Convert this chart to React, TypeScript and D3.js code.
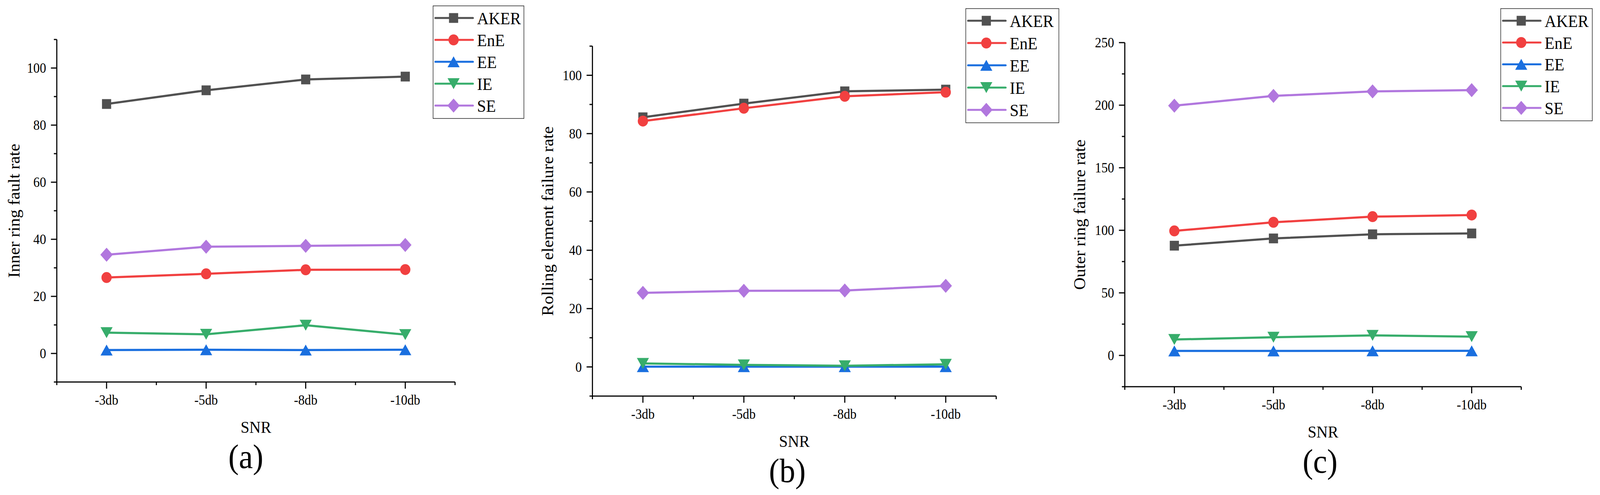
import { useEffect, useRef } from 'react'
import * as d3 from 'd3'

const snrLevels = ['-3db', '-5db', '-8db', '-10db']
const methods = ['AKER', 'EnE', 'EE', 'IE', 'SE']
const methodColors = ['#515151', '#F14040', '#1A6FDF', '#37AD6B', '#B177DE']
const methodMarkers = ['square', 'circle', 'triangleUp', 'triangleDown', 'diamond']

// rows follow the order of `methods`
const innerRingRates = [
  [87.4, 92.2, 96.0, 97.0],
  [26.6, 27.9, 29.3, 29.4],
  [1.2, 1.3, 1.2, 1.3],
  [7.3, 6.7, 9.9, 6.6],
  [34.6, 37.4, 37.7, 38.0],
]
const rollingElementRates = [
  [85.6, 90.3, 94.5, 95.1],
  [84.3, 88.7, 92.8, 94.2],
  [0.1, 0.1, 0.1, 0.1],
  [1.2, 0.7, 0.4, 0.9],
  [25.4, 26.1, 26.2, 27.8],
]
const outerRingRates = [
  [87.7, 93.5, 96.8, 97.5],
  [99.5, 106.4, 110.9, 112.2],
  [3.6, 3.6, 3.7, 3.7],
  [12.7, 14.5, 16.0, 15.0],
  [199.6, 207.4, 211.0, 212.0],
]
const rateTicks = [0, 20, 40, 60, 80, 100]
const outerTicks = [0, 50, 100, 150, 200, 250]

// drawing space; the svg is stretched to whatever viewport the page gets
const W = 4367
const H = 1266
const FONT = '"Liberation Serif", "Times New Roman", serif'

const panels = [
  {
    tag: '(a)', yTitle: 'Inner ring fault rate', rates: innerRingRates, ticks: rateTicks, domain: [-10, 110],
    box: { left: 155, right: 1242, top: 101, bottom: 977 },
    legend: { x: 1182, y: 15, w: 248, h: 288 }, titleX: 53, tagX: 671,
  },
  {
    tag: '(b)', yTitle: 'Rolling element failure rate', rates: rollingElementRates, ticks: rateTicks, domain: [-10, 110],
    box: { left: 1617, right: 2719, top: 118, bottom: 1013 },
    legend: { x: 2636, y: 22, w: 254, h: 292 }, titleX: 1510, tagX: 2149,
  },
  {
    tag: '(c)', yTitle: 'Outer ring failure rate', rates: outerRingRates, ticks: outerTicks, domain: [-25, 250],
    box: { left: 3070, right: 4152, top: 109, bottom: 989 },
    legend: { x: 4096, y: 22, w: 250, h: 287 }, titleX: 2962, tagX: 3603,
  },
]

// marker shapes, sized in px of bounding box
function drawMarker(g: any, kind: string, cx: number, cy: number, color: string) {
  if (kind === 'square') {
    g.append('rect').attr('x', cx - 12.5).attr('y', cy - 12.5).attr('width', 25).attr('height', 25).attr('fill', color)
  } else if (kind === 'circle') {
    g.append('circle').attr('cx', cx).attr('cy', cy).attr('r', 14).attr('fill', color)
  } else {
    const p = d3.path()
    if (kind === 'triangleUp') {
      p.moveTo(cx, cy - 14); p.lineTo(cx + 16.5, cy + 14); p.lineTo(cx - 16.5, cy + 14)
    } else if (kind === 'triangleDown') {
      p.moveTo(cx, cy + 14); p.lineTo(cx + 16.5, cy - 14); p.lineTo(cx - 16.5, cy - 14)
    } else {
      p.moveTo(cx, cy - 18); p.lineTo(cx + 17, cy); p.lineTo(cx, cy + 18); p.lineTo(cx - 17, cy)
    }
    p.closePath()
    g.append('path').attr('d', p.toString()).attr('fill', color)
  }
}

export default function App() {
  const svgRef = useRef<SVGSVGElement>(null)

  useEffect(() => {
    if (!svgRef.current) return
    const svg = d3.select(svgRef.current)
    svg.selectAll('*').remove()

    panels.forEach(panel => {
      const { box, legend } = panel
      const g = svg.append('g')

      const x = d3.scalePoint<string>().domain(snrLevels).range([box.left, box.right]).padding(0.5)
      const y = d3.scaleLinear().domain(panel.domain).range([box.bottom, box.top])

      const step = panel.ticks[1] - panel.ticks[0]
      const minorY = d3.range(panel.domain[0], panel.domain[1] + 0.001, step / 2)
        .filter(v => !panel.ticks.includes(v))

      // axes
      g.append('line')
        .attr('x1', box.left).attr('x2', box.left).attr('y1', box.top).attr('y2', box.bottom + 1.5)
        .attr('stroke', '#000').attr('stroke-width', 3)
      g.append('line')
        .attr('x1', box.left - 1.5).attr('x2', box.right).attr('y1', box.bottom).attr('y2', box.bottom)
        .attr('stroke', '#000').attr('stroke-width', 3)

      panel.ticks.forEach(t => {
        g.append('line')
          .attr('x1', box.left - 16).attr('x2', box.left).attr('y1', y(t)).attr('y2', y(t))
          .attr('stroke', '#000').attr('stroke-width', 3)
        g.append('text')
          .attr('x', box.left - 29).attr('y', y(t)).attr('dy', '0.35em')
          .attr('text-anchor', 'end')
          .style('font-family', FONT).style('font-size', '35px')
          .text(t)
      })
      minorY.forEach(t => {
        g.append('line')
          .attr('x1', box.left - 8).attr('x2', box.left).attr('y1', y(t)).attr('y2', y(t))
          .attr('stroke', '#000').attr('stroke-width', 3)
      })

      snrLevels.forEach(s => {
        g.append('line')
          .attr('x1', x(s)!).attr('x2', x(s)!).attr('y1', box.bottom).attr('y2', box.bottom + 17)
          .attr('stroke', '#000').attr('stroke-width', 3)
        g.append('text')
          .attr('x', x(s)!).attr('y', box.bottom + 58)
          .attr('text-anchor', 'middle')
          .style('font-family', FONT).style('font-size', '35px')
          .text(s)
      })
      d3.range(0, snrLevels.length + 1).forEach(i => {
        const xm = box.left + i * x.step()
        g.append('line')
          .attr('x1', xm).attr('x2', xm).attr('y1', box.bottom).attr('y2', box.bottom + 8)
          .attr('stroke', '#000').attr('stroke-width', 3)
      })

      // axis titles
      g.append('text')
        .attr('x', (box.left + box.right) / 2).attr('y', box.bottom + 130)
        .attr('text-anchor', 'middle')
        .style('font-family', FONT).style('font-size', '43px')
        .text('SNR')
      g.append('text')
        .attr('transform', `translate(${panel.titleX},${(box.top + box.bottom) / 2}) rotate(-90)`)
        .attr('text-anchor', 'middle')
        .style('font-family', FONT).style('font-size', '44px')
        .text(panel.yTitle)
      g.append('text')
        .attr('x', panel.tagX).attr('y', box.bottom + 220)
        .attr('text-anchor', 'middle')
        .style('font-family', FONT).style('font-size', '86px')
        .text(panel.tag)

      // series
      const line = d3.line<number>()
        .x((_, i) => x(snrLevels[i])!)
        .y(d => y(d))
      panel.rates.forEach((values, k) => {
        const color = methodColors[k]
        g.append('path')
          .attr('d', line(values)!)
          .attr('fill', 'none')
          .attr('stroke', color)
          .attr('stroke-width', 5.5)
          .attr('stroke-linejoin', 'round')
        values.forEach((v, i) => drawMarker(g, methodMarkers[k], x(snrLevels[i])!, y(v), color))
      })

      // legend
      const lg = g.append('g')
      lg.append('rect')
        .attr('x', legend.x).attr('y', legend.y).attr('width', legend.w).attr('height', legend.h)
        .attr('fill', '#fff').attr('stroke', '#222').attr('stroke-width', 1.5)
      const rowStep = (legend.h - 64) / 4
      methods.forEach((name, k) => {
        const cy = legend.y + 31 + k * rowStep
        lg.append('line')
          .attr('x1', legend.x + 6).attr('x2', legend.x + 109).attr('y1', cy).attr('y2', cy)
          .attr('stroke', methodColors[k]).attr('stroke-width', 5).attr('stroke-linecap', 'round')
        drawMarker(lg, methodMarkers[k], legend.x + 56, cy, methodColors[k])
        lg.append('text')
          .attr('x', legend.x + 120).attr('y', cy).attr('dy', '0.36em')
          .style('font-family', FONT).style('font-size', '44px')
          .text(name)
      })
    })
  }, [])

  return (
    <svg
      ref={svgRef}
      viewBox={`0 0 ${W} ${H}`}
      preserveAspectRatio="none"
      style={{ position: 'fixed', left: 0, top: 0, width: '100vw', height: '100vh', display: 'block', background: '#fff' }}
    />
  )
}
